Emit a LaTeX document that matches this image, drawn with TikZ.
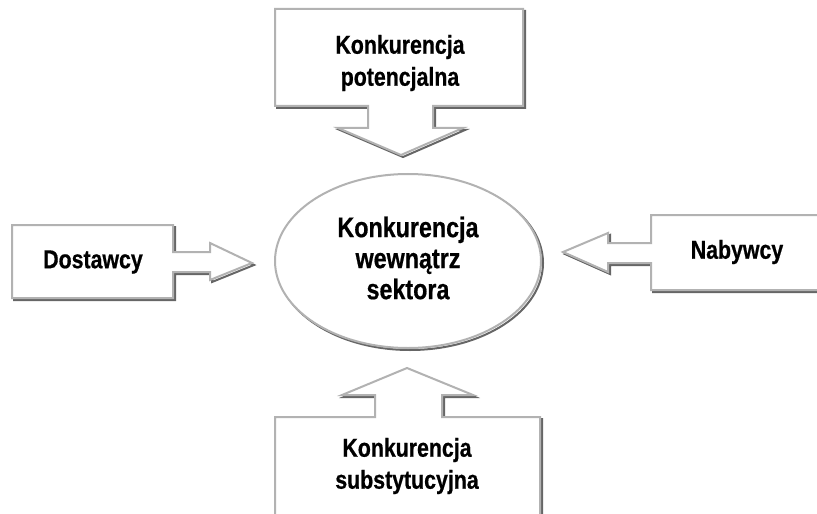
\documentclass[tikz,border=0pt]{standalone}
\usepackage{fontspec}
\usepackage{tikz}
\usetikzlibrary{positioning}
\newfontfamily\diagfont{Liberation Sans}[FakeStretch=0.82,BoldFeatures={FakeBold=0.6}]

\begin{document}
\begin{tikzpicture}[x=0.5pt,y=-0.5pt,
  outline/.style={draw=gray!60,line width=1pt,fill=white,line join=miter},
  shade/.style={draw=black!60,line width=1pt,line join=miter},
  boxtext/.style={font=\diagfont\bfseries\fontsize{13}{16}\selectfont,align=center},
  coretext/.style={font=\diagfont\bfseries\fontsize{14.2}{15.5}\selectfont,align=center}]
  \clip (0,0) rectangle (817,513);
  % callout boxes, shadow first
  \foreach \s/\d in {shade/2,outline/0} {
    \draw[\s,shift={(\d,\d)}] (275,9) -- (523,9) -- (523,106) -- (433,106) -- (433,128) -- (463,128)
      -- (401,155) -- (338,128) -- (368,128) -- (368,106) -- (275,106) -- cycle;
    \draw[\s,shift={(\d,\d)}] (12,225) -- (173,225) -- (173,252) -- (210,252) -- (210,243) -- (252,263)
      -- (210,280) -- (210,272) -- (173,272) -- (173,298) -- (12,298) -- cycle;
    \draw[\s,shift={(\d,\d)}] (830,215) -- (651,215) -- (651,243) -- (608,243) -- (608,233) -- (563,252)
      -- (608,272) -- (608,263) -- (651,263) -- (651,290) -- (830,290) -- cycle;
    \draw[\s,shift={(\d,\d)}] (275,530) -- (275,417) -- (375,417) -- (375,395) -- (342,395) -- (407,368)
      -- (473,395) -- (442,395) -- (442,417) -- (540,417) -- (540,530) -- cycle;
    \draw[\s,shift={(\d,\d)}] (408,261) ellipse [x radius=66.5pt,y radius=43.5pt];
  }
  % labels
  \node[boxtext] (potential) at (400,63) {Konkurencja\\potencjalna};
  \node[boxtext] (suppliers) at (93,262) {Dostawcy};
  \node[boxtext] (buyers) at (737,252) {Nabywcy};
  \node[boxtext] (substitutes) at (407,466) {Konkurencja\\substytucyjna};
  \node[coretext] (rivalry) at (408,258) {Konkurencja\\wewnątrz\\sektora};
\end{tikzpicture}
\end{document}
